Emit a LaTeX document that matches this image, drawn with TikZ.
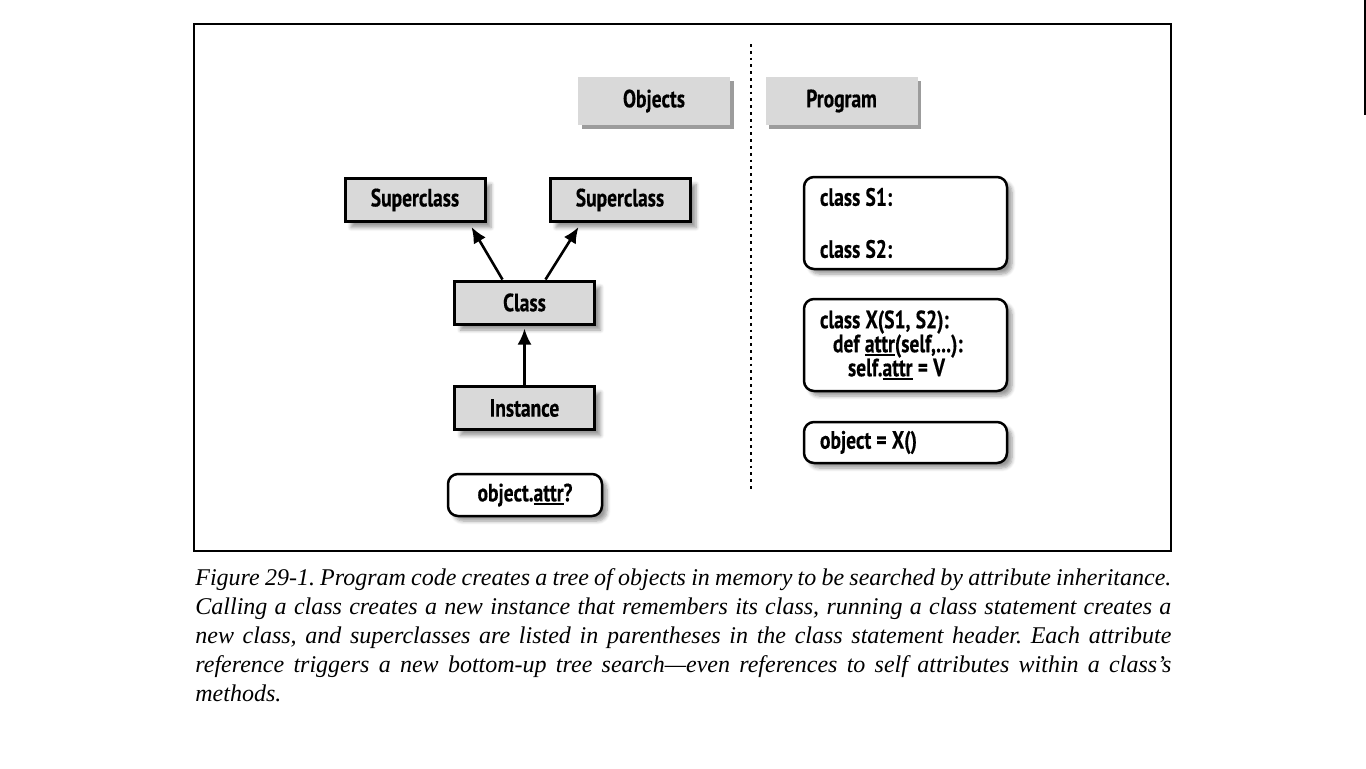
\documentclass[tikz,border=0pt]{standalone}
\usepackage{fontspec}
\setmainfont{Liberation Serif}
\newfontfamily\labelfont[FakeStretch=0.78, FakeBold=0.4]{PT Sans Bold}
\usepackage{tikz}
\usetikzlibrary{positioning, arrows.meta, shadows, shadows.blur}

\definecolor{boxgray}{HTML}{D9D9D9}
\definecolor{edgegray}{HTML}{9C9C9C}

\newcommand{\undertext}[1]{{\setbox0\hbox{#1}\rlap{\rule[-1.7pt]{\wd0}{0.65pt}}\box0}}

\tikzset{
  labeltext/.style={font=\labelfont\fontsize{12.5}{14}\selectfont},
  headbox/.style={labeltext, fill=boxgray, minimum width=76pt, minimum height=24pt,
    drop shadow={shadow xshift=1.8pt, shadow yshift=-1.8pt, fill=edgegray, opacity=1}},
  objbox/.style={labeltext, draw=black, line width=1.5pt, fill=boxgray,
    minimum width=70pt, minimum height=21.5pt,
    blur shadow={shadow xshift=3pt, shadow yshift=-3pt, shadow blur steps=6}},
  codebox/.style={labeltext, draw=black, line width=1.25pt, rounded corners=5pt, fill=white,
    align=left, text width=85.5pt, inner xsep=8pt,
    execute at begin node={\spaceskip=2.6pt\relax},
    blur shadow={shadow xshift=2.5pt, shadow yshift=-2.5pt, shadow blur steps=6}},
  linkarrow/.style={line width=1.3pt, -{Latex[length=8pt,width=7pt]}}
}

\begin{document}
\begin{tikzpicture}[x=0.5pt, y=-0.5pt]
\useasboundingbox (0,0) rectangle (1366,768);

% frame and divider
\draw[line width=0.75pt] (194,24) rectangle (1171,551);
\draw[line width=1.4pt, dotted] (751,44) -- (751,492);
\draw[line width=0.6pt] (1365,0) -- (1365,115);

% headers
\node[headbox](objects) at (654,101) {Objects};
\node[headbox](program) at (841.5,101) {Program};

% object tree
\node[objbox](sup1) at (415,200) {Superclass};
\node[objbox](sup2) at (620,200) {Superclass};
\node[objbox](class) at (524.5,302.5) {Class};
\node[objbox](inst) at (524.5,408) {Instance};
\node[codebox, text width=61pt, align=center, minimum height=21pt](query) at (525,495) {object.\undertext{attr}?};

\draw[linkarrow] ([xshift=-11pt]class.north) -- ([xshift=-7.5pt,yshift=-2pt]sup1.south east);
\draw[linkarrow] ([xshift=10.5pt]class.north) -- ([xshift=15pt,yshift=-2pt]sup2.south west);
\draw[linkarrow] (inst.north) -- ([yshift=-1.5pt]class.south);

% program code
\node[codebox, minimum height=46pt](supers) at (905.5,223) {class S1:\\[12pt]class S2:};
\node[codebox, minimum height=46pt](xdef) at (905.5,345) {class X(S1, S2):\\[-2pt]
  \hspace*{6.5pt}def \undertext{attr}(self,...):\\[-2pt]
  \hspace*{14pt}self.\undertext{attr} = V};
\node[codebox, minimum height=20.5pt](make) at (905.5,442.5) {object = X()};

% caption
\node[anchor=north west, inner sep=0pt, text width=488pt, align=justify,
  font=\itshape\fontsize{12}{14.5}\selectfont\frenchspacing](caption) at (195,568)
  {Figure 29-1. Program code creates a tree of objects in memory to be searched by attribute inheritance.\linebreak
   Calling a class creates a new instance that remembers its class, running a class statement creates a\linebreak
   new class, and superclasses are listed in parentheses in the class statement header. Each attribute\linebreak
   reference triggers a new bottom-up tree search---even references to self attributes within a class's\linebreak
   methods.};
\end{tikzpicture}
\end{document}
